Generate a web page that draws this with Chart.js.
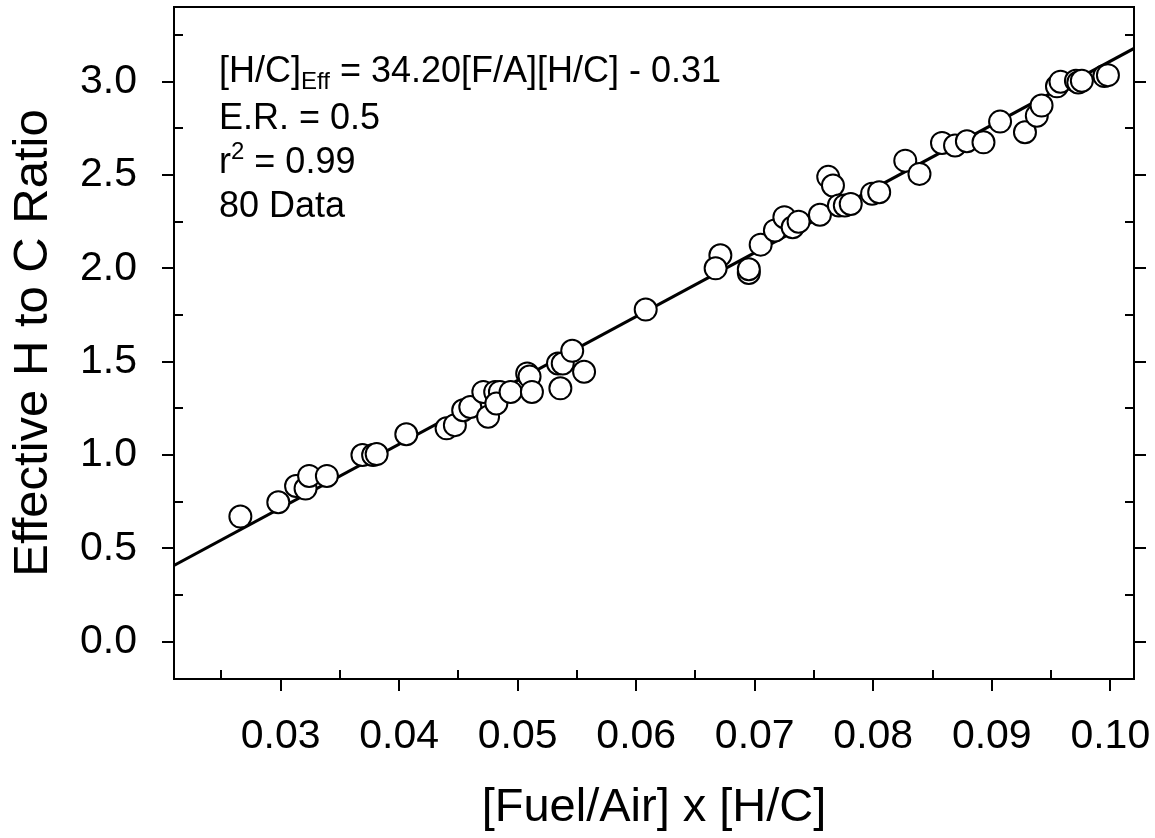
<!DOCTYPE html>
<html>
<head>
<meta charset="utf-8">
<script src="https://cdn.jsdelivr.net/npm/chart.js@4/dist/chart.umd.min.js"></script>
<style>
  body { margin: 0; background: #fff; }
  canvas { display: block; }
</style>
</head>
<body>
<canvas id="myChart" width="1155" height="838"></canvas>
<script>
// measured points: [Fuel/Air] x [H/C] vs effective H/C
const fuelAirHC = [
  0.0266, 0.0298, 0.0313, 0.0321, 0.0324, 0.0339, 0.0369, 0.0378, 0.0381, 0.0406,
  0.0440, 0.0447, 0.0454, 0.0460, 0.0471, 0.0475, 0.0481, 0.0485, 0.0482, 0.0494,
  0.0508, 0.0510, 0.0512, 0.0534, 0.0538, 0.0536, 0.0546, 0.0556, 0.0608, 0.0671,
  0.0667, 0.0695, 0.0695, 0.0705, 0.0717, 0.0725, 0.0732, 0.0737, 0.0755, 0.0762,
  0.0766, 0.0771, 0.0776, 0.0781, 0.0799, 0.0805, 0.0827, 0.0839, 0.0858, 0.0869,
  0.0879, 0.0893, 0.0907, 0.0928, 0.0938, 0.0942, 0.0955, 0.0958, 0.0971, 0.0973,
  0.0976, 0.0995, 0.0998
];
const effHC = [
  0.670, 0.747, 0.834, 0.820, 0.888, 0.888, 1.000, 1.000, 1.005, 1.111,
  1.143, 1.160, 1.240, 1.257, 1.338, 1.205, 1.338, 1.338, 1.276, 1.338,
  1.437, 1.420, 1.338, 1.490, 1.490, 1.357, 1.558, 1.446, 1.779, 2.070,
  2.000, 1.975, 1.995, 2.127, 2.203, 2.274, 2.220, 2.250, 2.287, 2.490,
  2.444, 2.337, 2.337, 2.345, 2.400, 2.408, 2.577, 2.506, 2.672, 2.658,
  2.681, 2.675, 2.786, 2.729, 2.818, 2.872, 2.975, 3.000, 3.005, 2.996,
  3.005, 3.030, 3.035
];

// regression line end points
const fitX = [0.021, 0.102];
const fitY = [0.408, 3.178];

const xTicks = [0.03, 0.04, 0.05, 0.06, 0.07, 0.08, 0.09, 0.10];
const xMinor = [0.025, 0.035, 0.045, 0.055, 0.065, 0.075, 0.085, 0.095];
const yTicks = [0.0, 0.5, 1.0, 1.5, 2.0, 2.5, 3.0];
const yMinor = [0.25, 0.75, 1.25, 1.75, 2.25, 2.75, 3.25];

const FONT = 'Liberation Sans, Arial, sans-serif';

// frame + ticks (major out, minor in; none on top)
const frameTicks = {
  id: 'frameTicks',
  afterDatasetsDraw(chart) {
    const {ctx, chartArea: {left, right, top, bottom}, scales: {x, y}} = chart;
    ctx.save();
    ctx.strokeStyle = '#000';
    ctx.lineWidth = 2;
    ctx.strokeRect(left, top, right - left, bottom - top);
    ctx.beginPath();
    xTicks.forEach(v => {
      const px = Math.round(x.getPixelForValue(v));
      ctx.moveTo(px, bottom); ctx.lineTo(px, bottom + 12);
    });
    xMinor.forEach(v => {
      const px = Math.round(x.getPixelForValue(v));
      ctx.moveTo(px, bottom); ctx.lineTo(px, bottom - 9);
    });
    yTicks.forEach(v => {
      const py = Math.round(y.getPixelForValue(v));
      ctx.moveTo(left, py); ctx.lineTo(left - 12, py);
      ctx.moveTo(right, py); ctx.lineTo(right + 12, py);
    });
    yMinor.forEach(v => {
      const py = Math.round(y.getPixelForValue(v));
      ctx.moveTo(left, py); ctx.lineTo(left + 9, py);
      ctx.moveTo(right, py); ctx.lineTo(right - 9, py);
    });
    ctx.stroke();
    ctx.restore();
  }
};

// text block in upper left
const annotation = {
  id: 'annotation',
  afterDraw(chart) {
    const ctx = chart.ctx;
    const big = '36px ' + FONT;
    const small = '24px ' + FONT;
    let xPos = 219;
    ctx.save();
    ctx.fillStyle = '#000';
    ctx.textBaseline = 'alphabetic';
    ctx.textAlign = 'left';

    ctx.font = big;
    ctx.fillText('[H/C]', xPos, 82);
    xPos += ctx.measureText('[H/C]').width;
    ctx.font = small;
    ctx.fillText('Eff', xPos, 89);
    xPos += ctx.measureText('Eff').width;
    ctx.font = big;
    ctx.fillText(' = 34.20[F/A][H/C] - 0.31', xPos, 82);

    ctx.fillText('E.R. = 0.5', 219, 129);

    xPos = 219;
    ctx.fillText('r', xPos, 173);
    xPos += ctx.measureText('r').width;
    ctx.font = small;
    ctx.fillText('2', xPos, 159);
    xPos += ctx.measureText('2').width;
    ctx.font = big;
    ctx.fillText(' = 0.99', xPos, 173);

    ctx.fillText('80 Data', 219, 217);
    ctx.restore();
  }
};

// keep chart area fixed; no automatic label padding
function noPad(scale) {
  scale.paddingTop = 0;
  scale.paddingBottom = 0;
  scale.paddingLeft = 0;
  scale.paddingRight = 0;
}

const ctx = document.getElementById('myChart').getContext('2d');

const myChart = new Chart(ctx, {
  data: {
    datasets: [{
      type: 'scatter',
      data: fuelAirHC.map((v, i) => ({x: v, y: effHC[i]})),
      backgroundColor: '#fff',
      borderColor: '#000',
      borderWidth: 2,
      pointRadius: 11,
      order: 0
    }, {
      type: 'line',
      data: fitX.map((v, i) => ({x: v, y: fitY[i]})),
      borderColor: '#000',
      borderWidth: 3,
      pointRadius: 0,
      fill: false,
      order: 1
    }]
  },
  plugins: [frameTicks, annotation],
  options: {
    responsive: false,
    animation: false,
    events: [],
    layout: {
      autoPadding: false,
      padding: {top: 7, right: 21, bottom: 0, left: 0}
    },
    plugins: {
      legend: {display: false},
      tooltip: {enabled: false}
    },
    scales: {
      x: {
        type: 'linear',
        position: 'bottom',
        min: 0.021,
        max: 0.102,
        afterBuildTicks: (scale) => { scale.ticks = xTicks.map(v => ({value: v})); },
        afterFit: (scale) => { scale.height = 159; noPad(scale); },
        grid: {display: false, drawTicks: false},
        border: {display: false},
        ticks: {
          color: '#000',
          padding: 33,
          maxRotation: 0,
          autoSkip: false,
          font: {family: FONT, size: 41},
          callback: (v) => Number(v).toFixed(2)
        },
        title: {
          display: true,
          text: '[Fuel/Air] x [H/C]',
          color: '#000',
          font: {family: FONT, size: 47},
          padding: {top: 0, bottom: 2}
        }
      },
      y: {
        type: 'linear',
        position: 'left',
        min: -0.2,
        max: 3.4,
        afterBuildTicks: (scale) => { scale.ticks = yTicks.map(v => ({value: v})); },
        afterFit: (scale) => { scale.width = 174; noPad(scale); },
        grid: {display: false, drawTicks: false},
        border: {display: false},
        ticks: {
          color: '#000',
          padding: 37,
          autoSkip: false,
          font: {family: FONT, size: 41},
          callback: (v) => Number(v).toFixed(1)
        },
        title: {
          display: true,
          text: 'Effective H to C Ratio',
          color: '#000',
          font: {family: FONT, size: 49},
          padding: {top: 4, bottom: 0}
        }
      }
    }
  }
});
</script>
</body>
</html>
